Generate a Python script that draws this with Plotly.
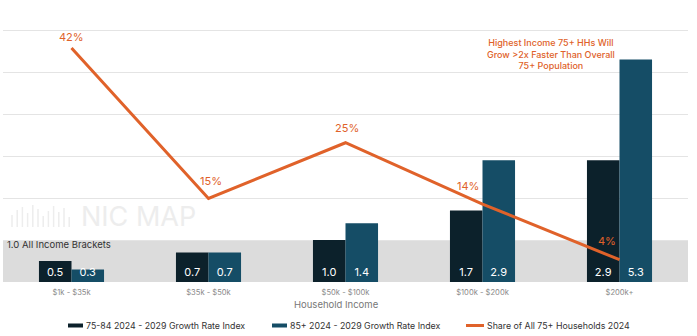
import plotly.graph_objects as go

# Household income brackets and series values
categories = ["$1k - $35k", "$35k - $50k", "$50k - $100k", "$100k - $200k", "$200k+"]
growth_75_84 = [0.5, 0.7, 1.0, 1.7, 2.9]
growth_85_plus = [0.3, 0.7, 1.4, 2.9, 5.3]
share_75_plus = [42, 15, 25, 14, 4]

series_names = [
    "75-84 2024 - 2029 Growth Rate Index",
    "85+ 2024 - 2029 Growth Rate Index",
    "Share of All 75+ Households 2024",
]

# Pixel offsets of the percentage labels relative to their line points
share_label_shift = [(0, 11), (2, 17), (1, 15), (-15, 18), (-13, 19)]

DARK = "#0c212b"
BLUE = "#154d66"
ORANGE = "#e0622a"
FONT = "Inter, Roboto, Arial, sans-serif"

W, H = 697, 336
L, R, T, B = 3, 9, 9, 54
Y_MAX = 6.5
Y2_MAX = Y_MAX * 7.54


def px(xp):
    return (xp - L) / (W - L - R)


def py(yp):
    return (H - B - yp) / (H - B - T)


fig = go.Figure()

fig.add_trace(go.Bar(
    x=categories, y=growth_75_84, name=series_names[0],
    marker=dict(color=DARK, line=dict(width=0)),
    text=[f"{v:.1f}" for v in growth_75_84],
    textposition="inside", insidetextanchor="start", textangle=0,
    textfont=dict(color="white", size=11, family=FONT),
))
fig.add_trace(go.Bar(
    x=categories, y=growth_85_plus, name=series_names[1],
    marker=dict(color=BLUE, line=dict(width=0)),
    text=[f"{v:.1f}" for v in growth_85_plus],
    textposition="inside", insidetextanchor="start", textangle=0,
    textfont=dict(color="white", size=11, family=FONT),
))
fig.add_trace(go.Scatter(
    x=categories, y=share_75_plus, name=series_names[2], yaxis="y2",
    mode="lines", line=dict(color=ORANGE, width=3),
))

shapes = [
    # "All income brackets" reference band at index 1.0
    dict(type="rect", xref="paper", yref="y", x0=0, x1=1, y0=0, y1=1.0,
         fillcolor="#dcdcdc", line=dict(width=0), layer="between"),
]

# Faint brand mark: bar-code style icon
icon_heights = [12, 17, 20, 14, 22, 18, 11, 16, 21, 15, 19, 10]
for i, h in enumerate(icon_heights):
    x = 12 + i * 5.2
    shapes.append(dict(type="line", xref="paper", yref="paper",
                       x0=px(x), x1=px(x), y0=py(227), y1=py(227 - h),
                       line=dict(color="#ededed", width=1.5), layer="below"))

annotations = [
    dict(text="1.0 All Income Brackets", xref="paper", yref="paper",
         x=px(5), y=py(244), xanchor="left", yanchor="middle",
         showarrow=False, font=dict(size=9.5, color="#333333")),
    dict(text="NIC MAP", xref="paper", yref="paper",
         x=px(79), y=py(216), xanchor="left", yanchor="middle",
         showarrow=False, font=dict(size=27, color="#ededed")),
    dict(text="Highest Income 75+ HHs Will<br>Grow >2x Faster Than Overall<br>75+ Population",
         xref="paper", yref="paper", x=px(551), y=py(54),
         xanchor="center", yanchor="middle", showarrow=False,
         font=dict(size=9, color=ORANGE, weight=500)),
    dict(text="Household Income", xref="paper", yref="paper",
         x=px(336), y=py(304), xanchor="center", yanchor="middle",
         showarrow=False, font=dict(size=9.5, color="#777777")),
]

# Percentage labels above the share line
for cat, val, (dx, dy) in zip(categories, share_75_plus, share_label_shift):
    annotations.append(dict(
        text=f"{val}%", x=cat, y=val, xref="x", yref="y2",
        xanchor="center", yanchor="middle", xshift=dx, yshift=dy,
        showarrow=False, font=dict(size=11, color=ORANGE),
    ))

# Legend: short stroke followed by the series name
legend_items = [
    (series_names[0], DARK, 4, 68, 83),
    (series_names[1], BLUE, 4, 272, 287),
    (series_names[2], ORANGE, 3, 466, 484),
]
for name, color, width, x0, x1 in legend_items:
    shapes.append(dict(type="line", xref="paper", yref="paper",
                       x0=px(x0), x1=px(x1), y0=py(325.5), y1=py(325.5),
                       line=dict(color=color, width=width)))
    annotations.append(dict(text=name, xref="paper", yref="paper",
                            x=px(x1 + 1), y=py(325.5), xanchor="left", yanchor="middle",
                            showarrow=False, font=dict(size=8.8, color="#333333")))

fig.update_layout(
    width=W, height=H,
    margin=dict(l=L, r=R, t=T, b=B, autoexpand=False),
    paper_bgcolor="white", plot_bgcolor="white",
    font=dict(family=FONT, color="#333333"),
    barmode="group", bargap=0.525, bargroupgap=0,
    showlegend=False,
    xaxis=dict(
        type="category", showgrid=False, zeroline=False, showline=False,
        automargin=False, ticks="", ticklabelstandoff=4,
        tickfont=dict(size=7.6, color="#8a8a8a"),
    ),
    yaxis=dict(
        range=[0, Y_MAX], dtick=1, showticklabels=False, zeroline=False,
        showgrid=True, gridcolor="#e4e4e4", gridwidth=1, automargin=False,
    ),
    yaxis2=dict(
        range=[0, Y2_MAX], overlaying="y", side="right", automargin=False,
        showticklabels=False, showgrid=False, zeroline=False,
    ),
    uniformtext=dict(minsize=11, mode="show"),
    shapes=shapes,
    annotations=annotations,
)

fig.write_html("out.html")
